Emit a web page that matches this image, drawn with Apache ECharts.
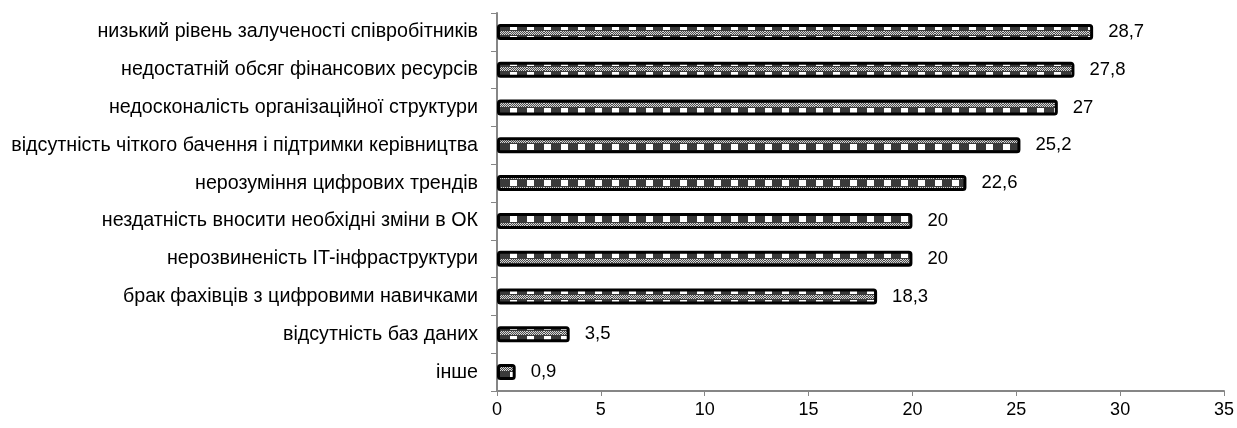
<!DOCTYPE html>
<html><head><meta charset="utf-8">
<script src="https://cdn.jsdelivr.net/npm/echarts@6/dist/echarts.min.js"></script>
<style>html,body{margin:0;padding:0;background:#fff}#c{width:1237px;height:428px}</style>
</head><body><div id="c"></div>
<script>
const categories = [
  "інше",
  "відсутність баз даних",
  "брак фахівців з цифровими навичками",
  "нерозвиненість IT-інфраструктури",
  "нездатність вносити необхідні зміни в ОК",
  "нерозуміння цифрових трендів",
  "відсутність чіткого бачення і підтримки керівництва",
  "недосконалість організаційної структури",
  "недостатній обсяг фінансових ресурсів",
  "низький рівень залученості співробітників"
];
const values = [0.9, 3.5, 18.3, 20, 20, 22.6, 25.2, 27, 27.8, 28.7];
const xTicks = [0, 5, 10, 15, 20, 25, 30, 35];

function makePattern() {
  const w = 17, h = 12;
  const c = document.createElement('canvas');
  c.width = w; c.height = h;
  const ctx = c.getContext('2d');
  ctx.fillStyle = '#3a3a3a'; ctx.fillRect(0, 0, w, h);
  ctx.fillStyle = '#ffffff'; ctx.fillRect(0, 0, 7, 6);
  for (let y = 7; y < 11; y++) {
    for (let x = 0; x < w; x++) {
      ctx.fillStyle = ((x + y) % 2 === 0) ? '#4a4a4a' : '#d8d8d8';
      ctx.fillRect(x, y, 1, 1);
    }
  }
  return c;
}

const chart = echarts.init(document.getElementById('c'), null, {renderer: 'canvas'});
const font = '"Liberation Sans", Arial, sans-serif';
chart.setOption({
  animation: false,
  grid: {left: 497, right: 10, top: 13, bottom: 37, containLabel: false},
  xAxis: {
    type: 'value', min: 0, max: 35, interval: 5,
    axisLine: {show: true, lineStyle: {color: '#868686', width: 2}},
    axisTick: {show: true, length: 5, lineStyle: {color: '#868686', width: 1}},
    splitLine: {show: false},
    axisLabel: {color: '#000', fontFamily: font, fontSize: 18, margin: 10,
      formatter: v => xTicks.includes(v) ? String(v) : ''}
  },
  yAxis: {
    type: 'category', data: categories,
    axisLine: {show: true, lineStyle: {color: '#868686', width: 2}},
    axisTick: {show: true, length: 6, lineStyle: {color: '#868686', width: 1}},
    axisLabel: {color: '#000', fontFamily: font, fontSize: 19.7, margin: 19}
  },
  series: [{
    type: 'bar', data: values, barWidth: 16,
    itemStyle: {
      color: {image: makePattern(), repeat: 'repeat'},
      borderColor: '#000', borderWidth: 3, borderRadius: 2
    },
    label: {show: true, position: 'right', distance: 15, color: '#000',
      fontFamily: font, fontSize: 18.5,
      formatter: p => String(p.value).replace('.', ',')}
  }]
});
</script></body></html>
